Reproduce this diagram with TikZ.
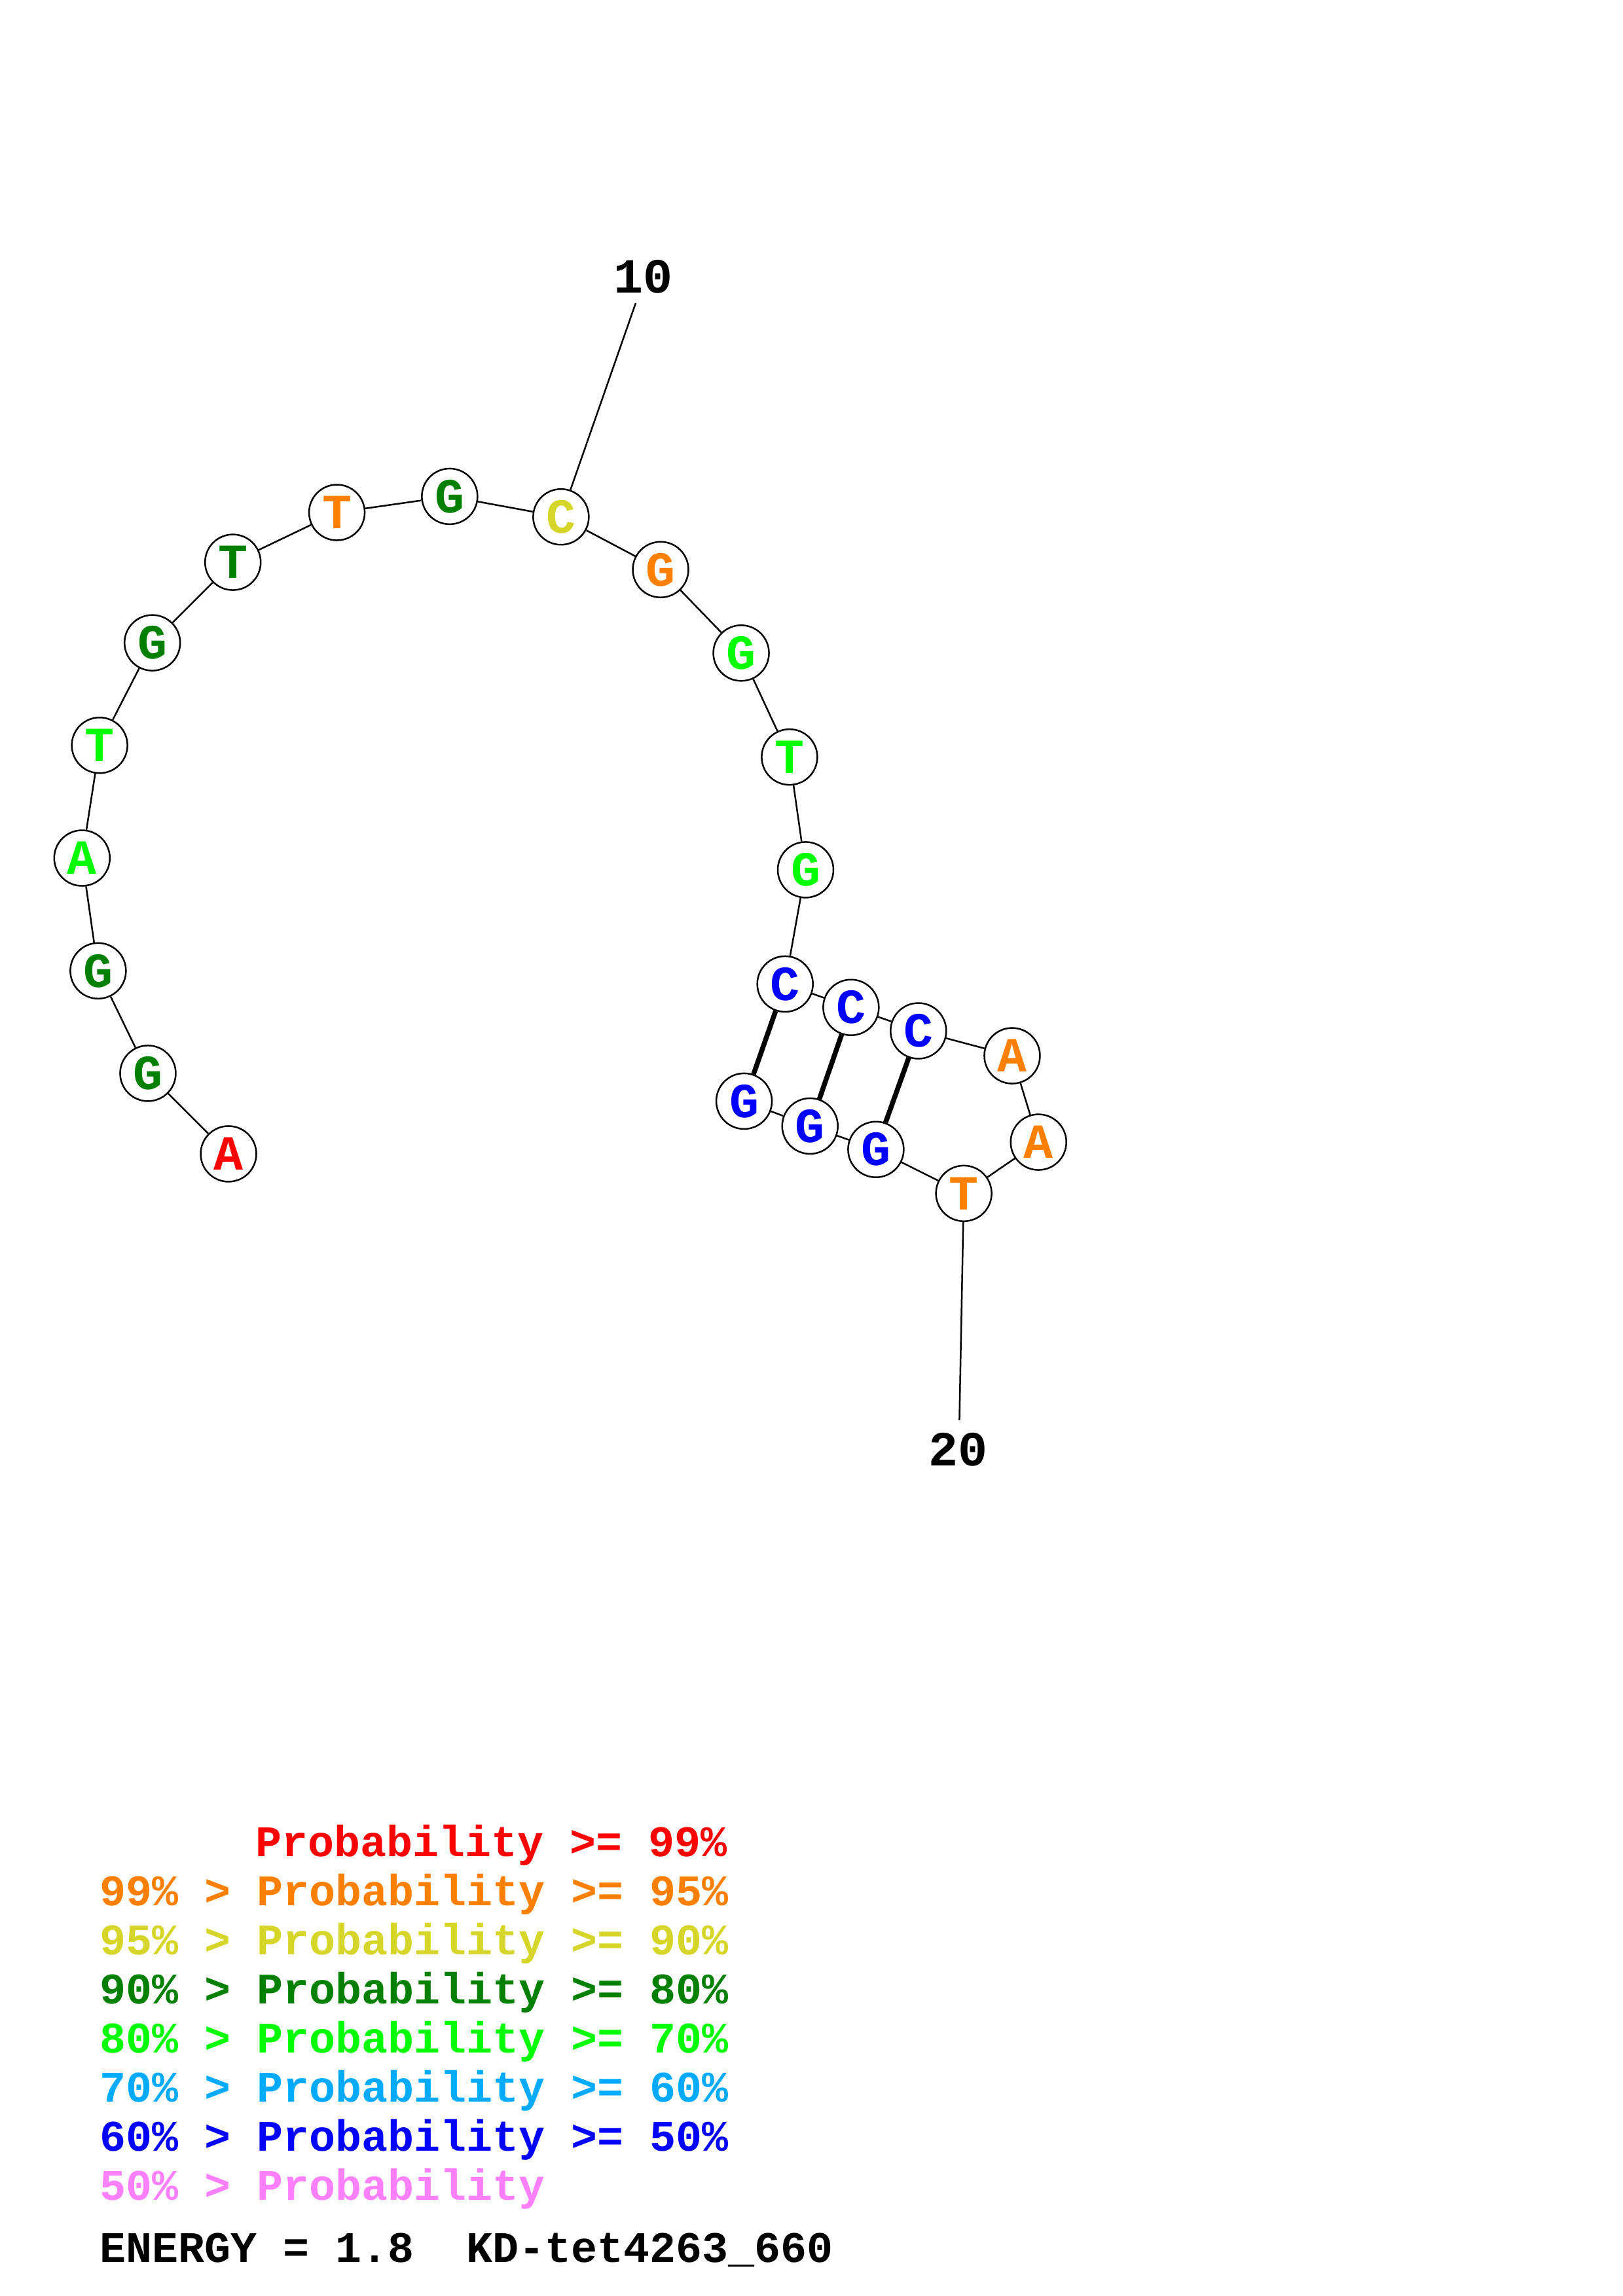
\documentclass[tikz,border=0pt]{standalone}
\usepackage{fontspec}
\setmonofont{Liberation Mono}
\definecolor{pr99}{RGB}{255,0,0}
\definecolor{pr95}{RGB}{255,128,0}
\definecolor{pr90}{RGB}{214,214,42}
\definecolor{pr80}{RGB}{0,128,0}
\definecolor{pr70}{RGB}{0,255,0}
\definecolor{pr60}{RGB}{0,170,255}
\definecolor{pr50}{RGB}{0,0,255}
\definecolor{prlow}{RGB}{255,128,255}
\begin{document}
\begin{tikzpicture}[x=0.537pt,y=-0.537pt,
  nt/.style={circle,draw,line width=0.6pt,fill=white,minimum size=20.4pt,inner sep=0pt,
    font=\ttfamily\bfseries\fontsize{18}{18}\selectfont},
  bb/.style={line width=0.6pt},
  bp/.style={line width=1.8pt},
  num/.style={inner sep=0pt,font=\ttfamily\bfseries\fontsize{18}{18}\selectfont},
  leg/.style={anchor=base west,inner sep=0pt,font=\ttfamily\bfseries\fontsize{16}{16}\selectfont}]
\useasboundingbox (0,0) rectangle (1108,1568);

\node[nt,text=pr99] (n1) at (156,788) {A};
\node[nt,text=pr80] (n2) at (101,733) {G};
\node[nt,text=pr80] (n3) at (67,663) {G};
\node[nt,text=pr70] (n4) at (56,586) {A};
\node[nt,text=pr70] (n5) at (68,509) {T};
\node[nt,text=pr80] (n6) at (104,439) {G};
\node[nt,text=pr80] (n7) at (159,384) {T};
\node[nt,text=pr95] (n8) at (230,350) {T};
\node[nt,text=pr80] (n9) at (307,339) {G};
\node[nt,text=pr90] (n10) at (383,353) {C};
\node[nt,text=pr95] (n11) at (451,389) {G};
\node[nt,text=pr70] (n12) at (506,446) {G};
\node[nt,text=pr70] (n13) at (539,517) {T};
\node[nt,text=pr70] (n14) at (550,594) {G};
\node[nt,text=pr50] (n15) at (536,672) {C};
\node[nt,text=pr50] (n16) at (581,688) {C};
\node[nt,text=pr50] (n17) at (627,704) {C};
\node[nt,text=pr95] (n18) at (691,721) {A};
\node[nt,text=pr95] (n19) at (709,780) {A};
\node[nt,text=pr95] (n20) at (658,815) {T};
\node[nt,text=pr50] (n21) at (598,785) {G};
\node[nt,text=pr50] (n22) at (553,769) {G};
\node[nt,text=pr50] (n23) at (508,752) {G};

\foreach \i [evaluate=\i as \j using int(\i+1)] in {1,...,22}
  \draw[bb] (n\i) -- (n\j);

\draw[bp] (n15) -- (n23);
\draw[bp] (n16) -- (n22);
\draw[bp] (n17) -- (n21);

\coordinate (t10) at (434,207);
\node[num] (lab10) at (439,189) {10};
\draw[bb] (n10) -- (t10);
\coordinate (t20) at (655,970);
\node[num] (lab20) at (654,990) {20};
\draw[bb] (n20) -- (t20);

\node[leg,text=pr99] (l1) at (174,1268) {Probability >= 99\%};
\node[leg,text=pr95] (l2) at (68,1301.5) {99\% > Probability >= 95\%};
\node[leg,text=pr90] (l3) at (68,1335) {95\% > Probability >= 90\%};
\node[leg,text=pr80] (l4) at (68,1368.5) {90\% > Probability >= 80\%};
\node[leg,text=pr70] (l5) at (68,1402) {80\% > Probability >= 70\%};
\node[leg,text=pr60] (l6) at (68,1435.5) {70\% > Probability >= 60\%};
\node[leg,text=pr50] (l7) at (68,1469) {60\% > Probability >= 50\%};
\node[leg,text=prlow] (l8) at (68,1502.5) {50\% > Probability};
\node[leg] (energy) at (68,1545) {ENERGY = 1.8\ \ KD-tet4263\_660};
\end{tikzpicture}
\end{document}
